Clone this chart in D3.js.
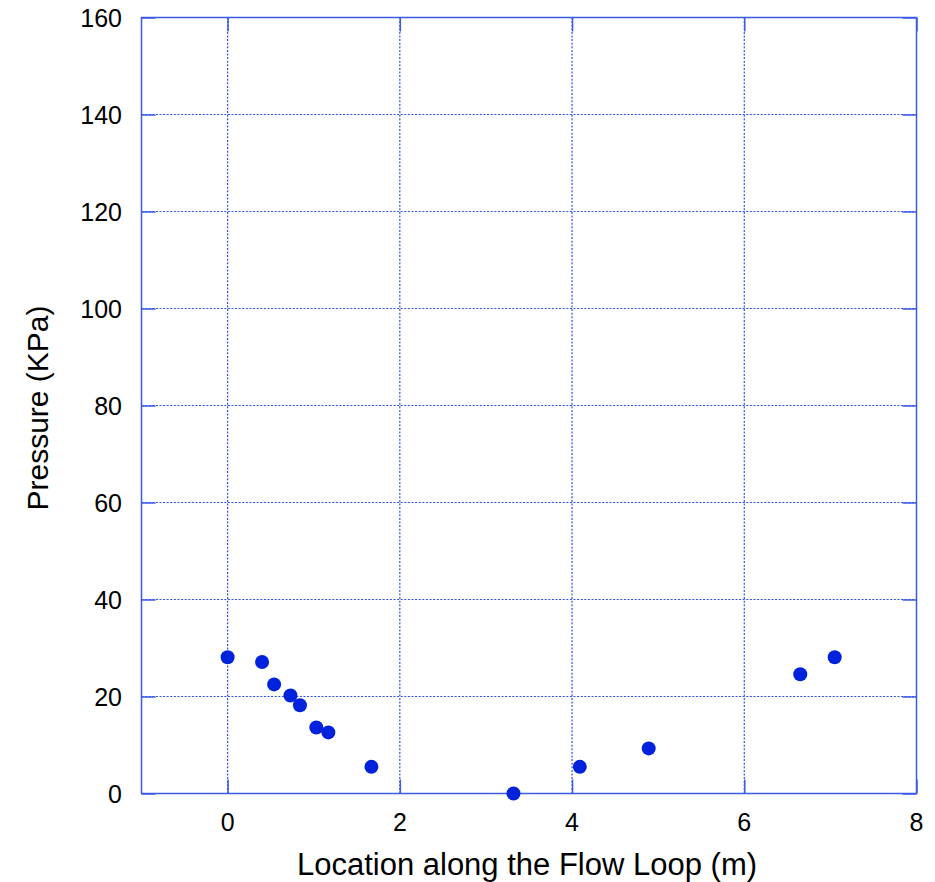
<!DOCTYPE html>
<html>
<head>
<meta charset="utf-8">
<script src="https://cdn.jsdelivr.net/npm/d3@7"></script>
<style>
  html, body { margin: 0; padding: 0; background: #fff; }
  text { font-family: "Liberation Sans", Arial, Helvetica, sans-serif; fill: #000; }
</style>
</head>
<body>
<svg id="chart" width="935" height="882"></svg>
<script>
// Data
const locations = [0.0, 0.40, 0.54, 0.73, 0.84, 1.03, 1.17, 1.67, 3.32, 4.09, 4.89, 6.65, 7.05];
const pressures = [28.1, 27.1, 22.5, 20.2, 18.2, 13.6, 12.6, 5.5, 0.0, 5.5, 9.3, 24.6, 28.1];
const xTicks = [0, 2, 4, 6, 8];
const yTicks = [0, 20, 40, 60, 80, 100, 120, 140, 160];
const xTitle = "Location along the Flow Loop (m)";
const yTitle = "Pressure (KPa)";

const svg = d3.select("#chart");
const pLeft = 141.5, pRight = 916.5, pTop = 17.5, pBottom = 793.5;
const x = d3.scaleLinear().domain([-1, 8]).range([pLeft, pRight]);
const y = d3.scaleLinear().domain([0, 160]).range([pBottom, pTop]);

const frameColor = "#3a5ae8";
const gridColor = "#2f50ee";
const pointColor = "#0022dd";
const tickLen = 14;

// Gridlines (dotted)
const g = svg.append("g");
g.selectAll(".vg").data(xTicks.filter(d => d > -1 && d < 8)).enter().append("line")
  .attr("x1", d => x(d)).attr("x2", d => x(d))
  .attr("y1", pTop).attr("y2", pBottom)
  .attr("stroke", gridColor).attr("stroke-width", 1.2).attr("stroke-dasharray", "2,1.6");
g.selectAll(".hg").data(yTicks.filter(d => d > 0 && d < 160)).enter().append("line")
  .attr("y1", d => y(d)).attr("y2", d => y(d))
  .attr("x1", pLeft).attr("x2", pRight)
  .attr("stroke", gridColor).attr("stroke-width", 1.2).attr("stroke-dasharray", "2,1.6");

// Axes with inward ticks, mirrored
const xAxisB = d3.axisBottom(x).tickValues(xTicks).tickSize(-tickLen).tickFormat("");
const xAxisT = d3.axisTop(x).tickValues(xTicks).tickSize(-tickLen).tickFormat("");
const yAxisL = d3.axisLeft(y).tickValues(yTicks).tickSize(-tickLen).tickFormat("");
const yAxisR = d3.axisRight(y).tickValues(yTicks).tickSize(-tickLen).tickFormat("");

function styleAxis(sel) {
  sel.select(".domain").remove();
  sel.selectAll("line").attr("stroke", frameColor).attr("stroke-width", 1.5);
}
svg.append("g").attr("transform", `translate(0,${pBottom})`).call(xAxisB).call(styleAxis);
svg.append("g").attr("transform", `translate(0,${pTop})`).call(xAxisT).call(styleAxis);
svg.append("g").attr("transform", `translate(${pLeft},0)`).call(yAxisL).call(styleAxis);
svg.append("g").attr("transform", `translate(${pRight},0)`).call(yAxisR).call(styleAxis);

// Frame
svg.append("rect").attr("x", pLeft).attr("y", pTop)
  .attr("width", pRight - pLeft).attr("height", pBottom - pTop)
  .attr("fill", "none").attr("stroke", frameColor).attr("stroke-width", 1.5);

// Tick labels
svg.selectAll(".xl").data(xTicks).enter().append("text")
  .attr("x", d => x(d)).attr("y", 831)
  .attr("text-anchor", "middle").attr("font-size", 25)
  .text(d => d);
svg.selectAll(".yl").data(yTicks).enter().append("text")
  .attr("x", 122).attr("y", d => y(d) + 9)
  .attr("text-anchor", "end").attr("font-size", 25)
  .text(d => d);

// Axis titles
svg.append("text").attr("x", 527).attr("y", 875)
  .attr("text-anchor", "middle").attr("font-size", 31).text(xTitle);
svg.append("text").attr("transform", `translate(48,408) rotate(-90)`)
  .attr("text-anchor", "middle").attr("font-size", 30).text(yTitle);

// Points
const data = locations.map((d, i) => ({ x: d, y: pressures[i] }));
svg.selectAll(".pt").data(data).enter().append("circle")
  .attr("cx", d => x(d.x)).attr("cy", d => y(d.y)).attr("r", 7)
  .attr("fill", pointColor);
</script>
</body>
</html>
